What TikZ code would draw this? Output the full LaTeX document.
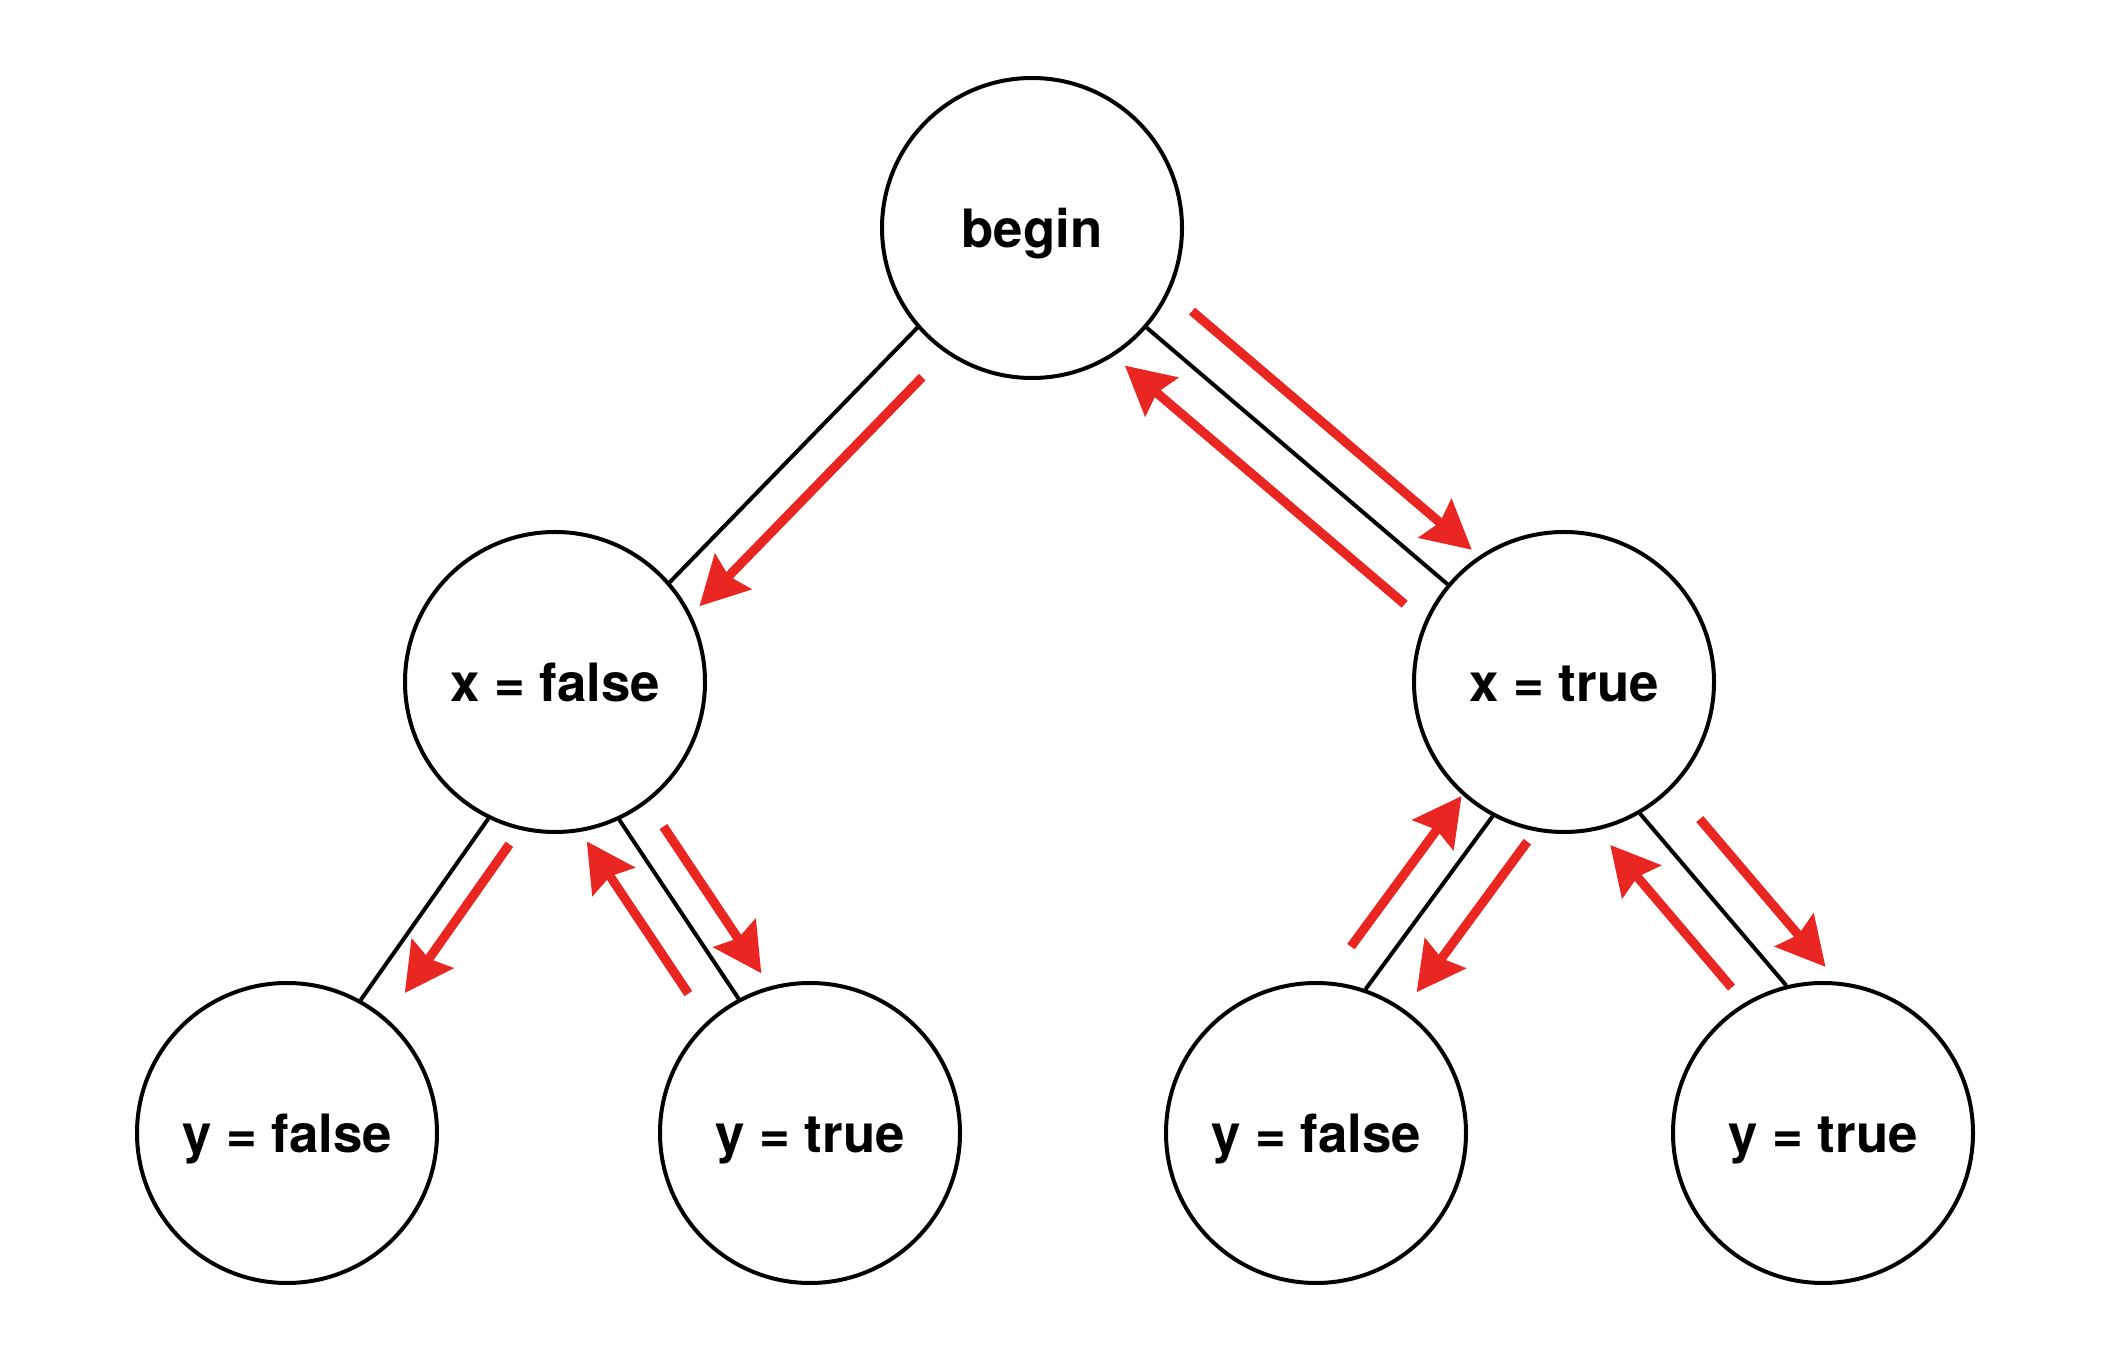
\documentclass[tikz,border=0pt]{standalone}
\usepackage{fontspec}
\setmainfont{TeX Gyre Heros}
\usetikzlibrary{arrows.meta, calc}
\definecolor{colorWalk}{RGB}{233,38,34}
\tikzset{
  choice/.style={circle, draw, line width=2pt, minimum size=150pt, inner sep=0pt,
    font=\fontsize{26.4}{30}\selectfont\bfseries, text height=20pt, text depth=0pt},
  branch/.style={line width=2pt},
  walk/.style={-{Stealth[length=24pt, width=25pt, inset=3pt]}, line width=4.6pt, colorWalk},
}

\begin{document}
\begin{tikzpicture}[x=0.5pt, y=0.5pt]
\useasboundingbox (0,0) rectangle (2116,1350);
\node[choice] (begin) at (1032,1122) {begin};
\node[choice] (xf) at (555,668) {x = false};
\node[choice] (xt) at (1564,668) {x = true};
\node[choice] (yfL) at (287,217) {y = false};
\node[choice] (ytL) at (810,217) {y = true};
\node[choice] (yfR) at (1316,217) {y = false};
\node[choice] (ytR) at (1823,217) {y = true};
% tree edges
\draw[branch] (begin.221) -- (xf.41);
\draw[branch] (begin.319) -- (xt.140);
\draw[branch] (xf.244) -- (yfL.61);
\draw[branch] (xf.295) -- (ytL.118);
\draw[branch] (xt.242) -- (yfR.71);
\draw[branch] (xt.300) -- (ytR.104);
% search walk
\draw[walk] ($(begin.221)!0.09!(xf.41)!19pt!90:(xf.41)$) -- ($(begin.221)!0.99!(xf.41)!19pt!90:(xf.41)$);
\draw[walk] ($(begin.319)!0.06!(xt.140)!21pt!90:(xt.140)$) -- ($(begin.319)!0.99!(xt.140)!21pt!90:(xt.140)$);
\draw[walk] ($(begin.319)!0.95!(xt.140)!21.5pt!-90:(xt.140)$) -- ($(begin.319)!0.02!(xt.140)!21.5pt!-90:(xt.140)$);
\draw[walk] ($(xf.244)!0.04!(yfL.61)!16pt!90:(yfL.61)$) -- ($(xf.244)!0.86!(yfL.61)!16pt!90:(yfL.61)$);
\draw[walk] ($(xf.295)!0.85!(ytL.118)!19.5pt!-90:(ytL.118)$) -- ($(xf.295)!0.0!(ytL.118)!19.5pt!-90:(ytL.118)$);
\draw[walk] ($(xf.295)!0.14!(ytL.118)!16.5pt!90:(ytL.118)$) -- ($(xf.295)!0.96!(ytL.118)!16.5pt!90:(ytL.118)$);
\draw[walk] ($(xt.242)!0.88!(yfR.71)!18.5pt!-90:(yfR.71)$) -- ($(xt.242)!0.01!(yfR.71)!18.5pt!-90:(yfR.71)$);
\draw[walk] ($(xt.242)!0.0!(yfR.71)!21.5pt!90:(yfR.71)$) -- ($(xt.242)!0.87!(yfR.71)!21.5pt!90:(yfR.71)$);
\draw[walk] ($(xt.300)!0.85!(ytR.104)!21.5pt!-90:(ytR.104)$) -- ($(xt.300)!0.02!(ytR.104)!21.5pt!-90:(ytR.104)$);
\draw[walk] ($(xt.300)!0.19!(ytR.104)!21pt!90:(ytR.104)$) -- ($(ytR.104)!-0.05!(xt.300)!21pt!-90:(xt.300)$);
\end{tikzpicture}
\end{document}
